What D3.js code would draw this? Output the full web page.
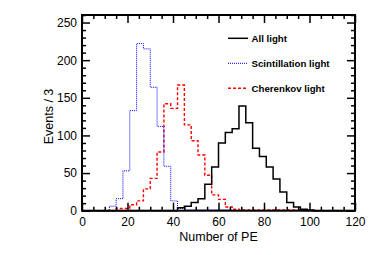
<!DOCTYPE html>
<html>
<head>
<meta charset="utf-8">
<script src="https://cdn.jsdelivr.net/npm/d3@7"></script>
<style>
  body { margin: 0; background: #fff; }
  svg { font-family: "Liberation Sans", Arial, sans-serif; }
</style>
</head>
<body>
<div id="chart"></div>
<script>
// bin edges 0..120 in steps of 3 (40 bins)
const binWidth = 3;
const binEdges = d3.range(0, 121, binWidth);

const allLight = [0,0,0,0,0,0,0,0,0,0,0,0,0,0,4,6,11,16,35,58,90,104,109,139,117,83,72,58,42,25,11,5,2,1,0,0,0,0,0,0];
const scintLight = [0,0,0,0,6,16,53,133,222,215,164,112,59,13,3,1,1,1,1,1,1,1,0,0,0,0,0,0,0,0,0,0,0,0,0,0,0,0,0,0];
const cherenkovLight = [0,0,0,0,0,3,3,8,13,29,43,78,142,136,167,114,93,74,47,21,15,5,2,1,1,1,1,1,1,1,1,1,1,0,0,0,0,0,0,0];

const xTicks = [0, 20, 40, 60, 80, 100, 120];
const yTicks = [0, 50, 100, 150, 200, 250];

const series = [
    {name: "All light", values: allLight, color: "#000", width: 1.5, dash: null},
    {name: "Scintillation light", values: scintLight, color: "#0000ff", width: 1, dash: "1,1"},
    {name: "Cherenkov light", values: cherenkovLight, color: "#ff0000", width: 1.4, dash: "3,2"}
];

const width = 374, height = 255;
const frame = {left: 82, right: 355, top: 15, bottom: 210.7};

const svg = d3.select("#chart").append("svg")
    .attr("width", width)
    .attr("height", height);

const x = d3.scaleLinear().domain([0, 120]).range([frame.left, frame.right]);
const y = d3.scaleLinear().domain([0, 260]).range([frame.bottom, frame.top]);

// histograms as step outlines
function stepPath(values) {
    let p = d3.path();
    p.moveTo(x(0), y(0));
    values.forEach((v, i) => {
        p.lineTo(x(binEdges[i]), y(v));
        p.lineTo(x(binEdges[i + 1]), y(v));
    });
    p.lineTo(x(120), y(0));
    return p.toString();
}

svg.append("g").selectAll("path")
    .data(series.slice().reverse())
    .enter()
    .append("path")
    .attr("d", d => stepPath(d.values))
    .attr("fill", "none")
    .attr("stroke", d => d.color)
    .attr("stroke-width", d => d.width)
    .attr("stroke-dasharray", d => d.dash);

// axes with inward ticks, ROOT style
const yMinor = d3.range(0, 261, 10).filter(v => v % 50 != 0);
const xMinor = d3.range(0, 121, 5).filter(v => v % 20 != 0);

function styleAxis(g) {
    g.select(".domain").remove();
    g.selectAll("line").attr("stroke", "#000").attr("stroke-width", 1.5);
    g.selectAll("text").attr("font-size", "12px").attr("fill", "#000");
}

svg.append("g")
    .attr("transform", `translate(${frame.left},0)`)
    .call(d3.axisLeft(y).tickValues(yTicks).tickSize(-8).tickPadding(5))
    .call(styleAxis);
svg.append("g")
    .attr("transform", `translate(${frame.left},0)`)
    .call(d3.axisLeft(y).tickValues(yMinor).tickSize(-4).tickFormat(""))
    .call(styleAxis);
svg.append("g")
    .attr("transform", `translate(${frame.right},0)`)
    .call(d3.axisRight(y).tickValues(yTicks).tickSize(-8).tickFormat(""))
    .call(styleAxis);
svg.append("g")
    .attr("transform", `translate(${frame.right},0)`)
    .call(d3.axisRight(y).tickValues(yMinor).tickSize(-4).tickFormat(""))
    .call(styleAxis);

svg.append("g")
    .attr("transform", `translate(0,${frame.bottom})`)
    .call(d3.axisBottom(x).tickValues(xTicks).tickSize(-8).tickPadding(7))
    .call(styleAxis);
svg.append("g")
    .attr("transform", `translate(0,${frame.bottom})`)
    .call(d3.axisBottom(x).tickValues(xMinor).tickSize(-4).tickFormat(""))
    .call(styleAxis);
svg.append("g")
    .attr("transform", `translate(0,${frame.top})`)
    .call(d3.axisTop(x).tickValues(xTicks).tickSize(-8).tickFormat(""))
    .call(styleAxis);
svg.append("g")
    .attr("transform", `translate(0,${frame.top})`)
    .call(d3.axisTop(x).tickValues(xMinor).tickSize(-4).tickFormat(""))
    .call(styleAxis);

// frame
svg.append("rect")
    .attr("x", frame.left)
    .attr("y", frame.top)
    .attr("width", frame.right - frame.left)
    .attr("height", frame.bottom - frame.top)
    .attr("fill", "none")
    .attr("stroke", "#000")
    .attr("stroke-width", 2);

// axis titles
svg.append("text")
    .attr("x", (frame.left + frame.right) / 2)
    .attr("y", 241)
    .attr("text-anchor", "middle")
    .attr("font-size", "12.5px")
    .text("Number of PE");

svg.append("text")
    .attr("transform", "translate(53,116.5) rotate(-90)")
    .attr("text-anchor", "middle")
    .attr("font-size", "12.5px")
    .text("Events / 3");

// legend
let legend = svg.append("g").selectAll(".legend-entry")
    .data(series)
    .enter()
    .append("g")
    .attr("class", "legend-entry")
    .attr("transform", (d, i) => `translate(228,${38.3 + i * 25})`);

legend.append("line")
    .attr("x1", 0)
    .attr("x2", 20)
    .attr("stroke", d => d.color)
    .attr("stroke-width", d => d.width)
    .attr("stroke-dasharray", d => d.dash);

legend.append("text")
    .attr("x", 23.5)
    .attr("dy", "0.35em")
    .attr("font-size", "9.7px")
    .attr("font-weight", "bold")
    .text(d => d.name);
</script>
</body>
</html>
